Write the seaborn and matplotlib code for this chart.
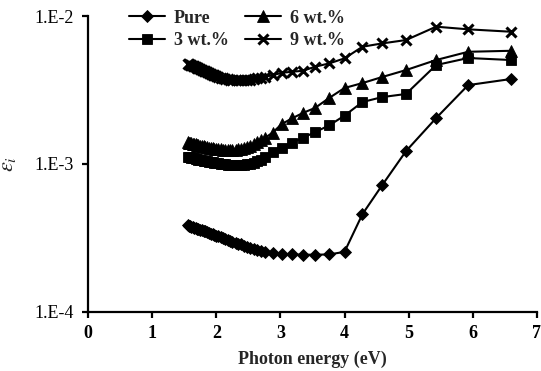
import numpy as np
import pandas as pd
import matplotlib
matplotlib.use("Agg")
import matplotlib.pyplot as plt
import seaborn as sns
from matplotlib.ticker import NullLocator

# ---- data ----
energy = [1.55, 1.57, 1.59, 1.61, 1.63, 1.65, 1.68, 1.70, 1.72, 1.75, 1.77, 1.80,
          1.82, 1.85, 1.88, 1.91, 1.94, 1.97, 2.00, 2.03, 2.07, 2.10, 2.14, 2.18,
          2.21, 2.25, 2.30, 2.34, 2.38, 2.43, 2.48, 2.53, 2.58, 2.64, 2.70, 2.76,
          2.88, 3.02, 3.18, 3.35, 3.54, 3.76, 4.00, 4.28, 4.59, 4.96, 5.43, 5.93, 6.60]

pure_e4 = [3.85, 3.82, 3.79, 3.77, 3.74, 3.71, 3.67, 3.65, 3.62, 3.58, 3.55, 3.52,
           3.49, 3.45, 3.41, 3.38, 3.34, 3.30, 3.27, 3.23, 3.18, 3.15, 3.10, 3.06,
           3.03, 2.98, 2.93, 2.89, 2.85, 2.80, 2.75, 2.70, 2.66, 2.61, 2.57, 2.53,
           2.49, 2.46, 2.44, 2.43, 2.43, 2.44, 2.54, 4.57, 7.2, 12.2, 20.4, 34.1, 37.5]

wt3_e3 = [1.12, 1.115, 1.11, 1.10, 1.095, 1.09, 1.08, 1.075, 1.07, 1.065, 1.06, 1.05,
          1.045, 1.04, 1.035, 1.03, 1.025, 1.02, 1.015, 1.01, 1.005, 1.00, 0.995, 0.99,
          0.99, 0.985, 0.985, 0.985, 0.985, 0.99, 0.995, 1.005, 1.02, 1.04, 1.07, 1.11,
          1.20, 1.29, 1.39, 1.50, 1.64, 1.82, 2.12, 2.62, 2.83, 2.97, 4.66, 5.20, 5.04]

wt6_e3 = [1.40, 1.39, 1.385, 1.38, 1.37, 1.365, 1.355, 1.35, 1.34, 1.33, 1.325, 1.315,
          1.31, 1.30, 1.29, 1.285, 1.275, 1.27, 1.265, 1.26, 1.255, 1.25, 1.245, 1.245,
          1.245, 1.245, 1.25, 1.255, 1.265, 1.28, 1.30, 1.33, 1.36, 1.40, 1.45, 1.50,
          1.63, 1.86, 2.03, 2.21, 2.39, 2.79, 3.26, 3.52, 3.87, 4.31, 5.04, 5.73, 5.82]

wt9_e3 = [4.75, 4.72, 4.68, 4.65, 4.61, 4.57, 4.52, 4.48, 4.44, 4.38, 4.34, 4.28,
          4.24, 4.18, 4.12, 4.07, 4.02, 3.97, 3.92, 3.88, 3.83, 3.80, 3.76, 3.73,
          3.71, 3.69, 3.68, 3.67, 3.67, 3.68, 3.69, 3.71, 3.74, 3.78, 3.83, 3.88,
          3.98, 4.13, 4.20, 4.26, 4.54, 4.78, 5.17, 6.20, 6.53, 6.88, 8.47, 8.13, 7.83]

labels = ["Pure", "3 wt.%", "6 wt.%", "9 wt.%"]
y_ticks = [1e-4, 1e-3, 1e-2]
y_tick_labels = ["1.E-4", "1.E-3", "1.E-2"]
x_ticks = [0, 1, 2, 3, 4, 5, 6, 7]

series = {
    "Pure": np.array(pure_e4) * 1e-4,
    "3 wt.%": np.array(wt3_e3) * 1e-3,
    "6 wt.%": np.array(wt6_e3) * 1e-3,
    "9 wt.%": np.array(wt9_e3) * 1e-3,
}
df = pd.DataFrame(
    [(e, v, k) for k, arr in series.items() for e, v in zip(energy, arr)],
    columns=["energy", "eps", "sample"],
)

# ---- style ----
sns.set_style("ticks")
plt.rcParams["font.family"] = ["Liberation Serif", "DejaVu Serif"]
plt.rcParams["mathtext.fontset"] = "stix"
FS = 13

fig = plt.figure(figsize=(5.41, 3.71), dpi=100)
ax = fig.add_axes([0.1632, 0.1598, 0.8288, 0.797])

marker_style = {
    "Pure": dict(marker="D", markersize=6.3, markeredgewidth=0.6),
    "3 wt.%": dict(marker="s", markersize=7.0, markeredgewidth=0.6),
    "6 wt.%": dict(marker="^", markersize=8.0, markeredgewidth=0.6),
    "9 wt.%": dict(marker="x", markersize=7.0, markeredgewidth=2.2),
}
for name in labels:
    sub = df[df["sample"] == name]
    sns.lineplot(data=sub, x="energy", y="eps", ax=ax, color="black",
                 linewidth=1.5, markeredgecolor="black", markerfacecolor="black",
                 label=name, **marker_style[name])

ax.set_yscale("log")
ax.set_ylim(1e-4, 1e-2)
ax.set_xlim(0, 7)
ax.set_yticks(y_ticks)
ax.set_yticklabels(y_tick_labels, fontsize=FS)
ax.yaxis.set_minor_locator(NullLocator())
ax.set_xticks(x_ticks)
ax.set_xticklabels([str(t) for t in x_ticks], fontsize=FS, fontweight="bold")

for side in ["top", "right"]:
    ax.spines[side].set_visible(False)
for side in ["left", "bottom"]:
    ax.spines[side].set_linewidth(1.6)
    ax.spines[side].set_color("black")
ax.tick_params(axis="both", direction="out", length=4.5, width=1.6, color="black",
               labelcolor="black")
ax.tick_params(axis="y", pad=6)
ax.tick_params(axis="x", pad=5)

ax.set_xlabel("Photon energy (eV)", fontsize=FS, fontweight="bold", labelpad=6)
ax.set_ylabel(r"$\varepsilon_i$", fontsize=FS + 3, labelpad=12)

leg = ax.legend(ncol=2, frameon=False, loc="upper left",
                bbox_to_anchor=(0.09, 1.022), borderpad=0, borderaxespad=0,
                handlelength=2.0, handletextpad=0.5, columnspacing=0.9,
                labelspacing=0.3, prop={"weight": "bold", "size": FS})

fig.savefig("out.png", dpi=100)
